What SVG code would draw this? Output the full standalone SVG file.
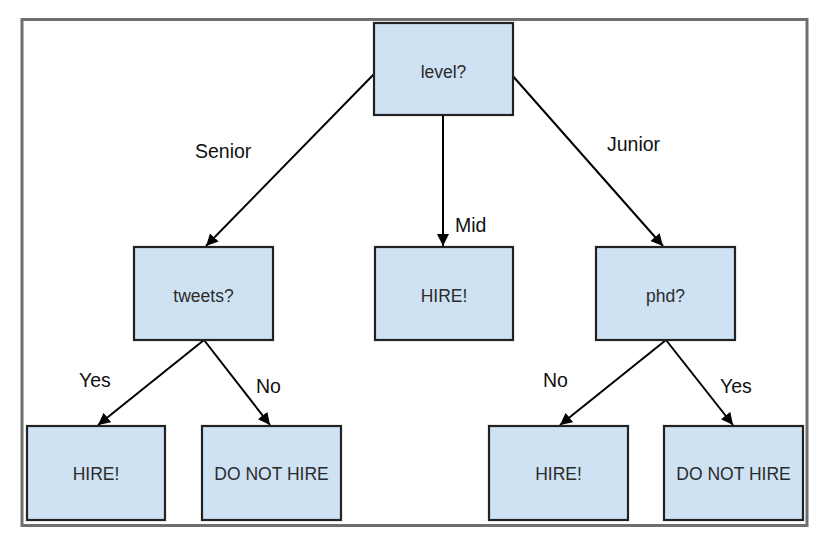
<svg xmlns="http://www.w3.org/2000/svg" width="824" height="544" viewBox="0 0 824 544">
<style>
.box{fill:#cfe2f3;stroke:#222;stroke-width:2.2}
.bt{font-family:"Liberation Sans",Arial,sans-serif;font-size:17.5px;fill:#2b2b2b;text-anchor:middle}
.lb{font-family:"Liberation Sans",Arial,sans-serif;font-size:19.5px;fill:#111}
.e{stroke:#000;stroke-width:2;fill:none;marker-end:url(#ah)}
</style>
<defs>
<marker id="ah" viewBox="0 0 12 12" refX="12" refY="6" markerWidth="12" markerHeight="12" markerUnits="userSpaceOnUse" orient="auto">
<path d="M0,0 L12,6 L0,12 Z" fill="#000"/>
</marker>
</defs>
<rect x="0" y="0" width="824" height="544" fill="#fff"/>
<rect x="22" y="19.5" width="785" height="506" fill="#fff" stroke="#6f6f6f" stroke-width="3"/>
<g id="connectors">
<line class="e" x1="376" y1="72" x2="206" y2="246"/>
<line class="e" x1="443" y1="115" x2="443" y2="246"/>
<line class="e" x1="511" y1="74" x2="663" y2="246"/>
<line class="e" x1="204" y1="340" x2="98" y2="425"/>
<line class="e" x1="204" y1="340" x2="270" y2="425"/>
<line class="e" x1="666" y1="340" x2="560" y2="425"/>
<line class="e" x1="666" y1="340" x2="733" y2="425"/>
</g>
<g id="labels">
<text class="lb" x="195" y="158">Senior</text>
<text class="lb" x="455" y="232">Mid</text>
<text class="lb" x="607" y="151">Junior</text>
<text class="lb" x="79" y="387">Yes</text>
<text class="lb" x="256" y="393">No</text>
<text class="lb" x="543" y="387">No</text>
<text class="lb" x="720" y="393">Yes</text>
</g>
<g id="n-level"><rect class="box" x="374" y="23" width="139" height="92"/><text class="bt" x="443.5" y="78">level?</text></g>
<g id="n-tweets"><rect class="box" x="134" y="247" width="139" height="93"/><text class="bt" x="203.5" y="302">tweets?</text></g>
<g id="n-hire-mid"><rect class="box" x="375" y="247" width="138" height="93"/><text class="bt" x="444" y="302">HIRE!</text></g>
<g id="n-phd"><rect class="box" x="596" y="247" width="139" height="93"/><text class="bt" x="665.5" y="302">phd?</text></g>
<g id="n-hire-1"><rect class="box" x="27" y="426" width="138" height="94"/><text class="bt" x="96" y="480">HIRE!</text></g>
<g id="n-dnh-1"><rect class="box" x="202" y="426" width="139" height="94"/><text class="bt" x="271.5" y="480">DO NOT HIRE</text></g>
<g id="n-hire-2"><rect class="box" x="489" y="426" width="139" height="94"/><text class="bt" x="558.5" y="480">HIRE!</text></g>
<g id="n-dnh-2"><rect class="box" x="664" y="426" width="139" height="94"/><text class="bt" x="733.5" y="480">DO NOT HIRE</text></g>
</svg>
